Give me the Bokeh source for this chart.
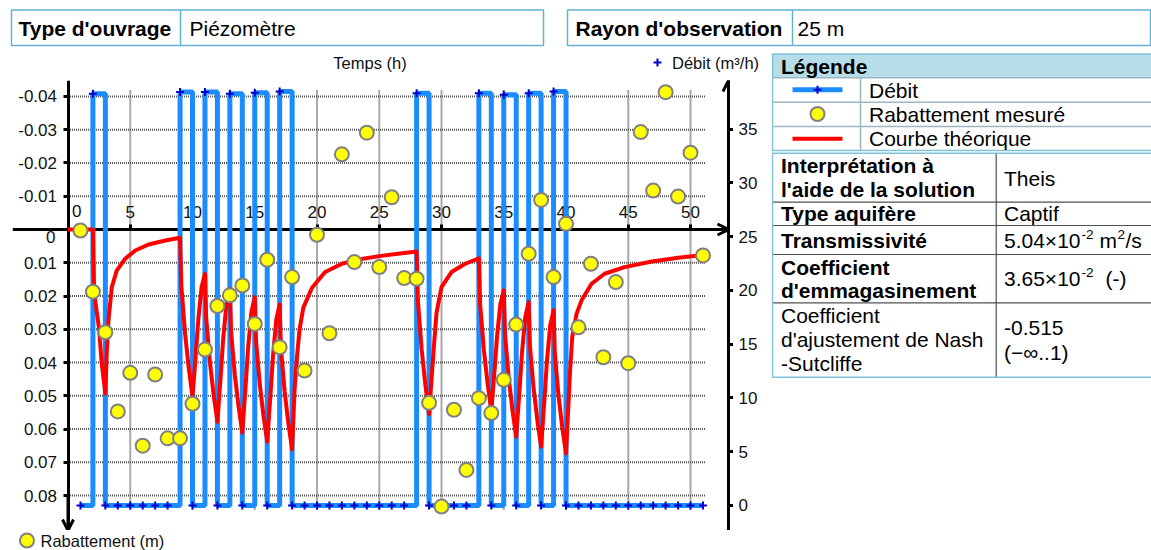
from bokeh.plotting import figure
from bokeh.models import Range1d, LinearAxis, FixedTicker, Label, Arrow, OpenHead
from bokeh.layouts import column, row
from bokeh.embed import file_html
from bokeh.resources import INLINE
from bokeh.core.properties import value

FONT = "Liberation Sans"
BLUE = "#1a8cff"
DARKBLUE = "#0000c8"
TXT = "#111111"

# ---------------- data ----------------
time_ticks = [0, 5, 10, 15, 20, 25, 30, 35, 40, 45, 50]
time_tick_labels = ["", "5", "10", "15", "20", "25", "30", "35", "40", "45", "50"]
rab_ticks = [-0.04, -0.03, -0.02, -0.01, 0, 0.01, 0.02, 0.03, 0.04, 0.05, 0.06, 0.07, 0.08]
rab_tick_labels = ["-0.04", "-0.03", "-0.02", "-0.01", "", "0.01", "0.02", "0.03", "0.04",
                   "0.05", "0.06", "0.07", "0.08"]
debit_ticks = [0, 5, 10, 15, 20, 25, 30, 35]
debit_tick_labels = ["0", "5", "10", "15", "20", "25", "30", "35"]

# Débit (m3/h), hourly
debit_t = list(range(1, 52))
debit_q = [0, 38.3, 0, 0, 0, 0, 0, 0, 38.45, 0,
           38.45, 0, 38.3, 0, 38.4, 0, 38.5, 0, 0, 0,
           0, 0, 0, 0, 0, 0, 0, 38.35, 0, 0,
           0, 0, 38.35, 0, 38.2, 0, 38.35, 0, 38.5, 0,
           0, 0, 0, 0, 0, 0, 0, 0, 0, 0,
           0]

# Rabattement mesuré (m)
meas_t = list(range(1, 52))
meas_r = [0.0003, 0.0187, 0.0309, 0.0547, 0.0431, 0.065, 0.0436, 0.0628, 0.0628, 0.0524,
          0.0361, 0.023, 0.0198, 0.0168, 0.0284, 0.0091, 0.0354, 0.0143, 0.0424, 0.0016,
          0.0312, -0.0226, 0.0098, -0.0291, 0.0113, -0.0097, 0.0146, 0.0148, 0.0521, 0.0833,
          0.0542, 0.0723, 0.0507, 0.0552, 0.0452, 0.0286, 0.0073, -0.0089, 0.0143, -0.0017,
          0.0294, 0.0103, 0.0384, 0.0158, 0.0402, -0.0293, -0.0117, -0.0413, -0.0099, -0.0231,
          0.0078]

# Courbe théorique (m)
curve_t = [0, 2.0, 2.1, 2.5, 2.7, 3.0,
           3.11, 3.25, 3.52, 3.92, 4.59, 5.4, 6.47, 7.81, 9.0,
           9.1, 9.4, 9.7, 10.0, 10.27, 10.46, 10.73, 11.0,
           11.1, 11.4, 11.7, 12.0, 12.27, 12.46, 12.73, 13.0,
           13.1, 13.4, 13.7, 14.0, 14.27, 14.46, 14.73, 15.0,
           15.1, 15.4, 15.7, 16.0, 16.27, 16.46, 16.73, 17.0,
           17.1, 17.4, 17.7, 18.0,
           18.2, 18.4, 18.6, 18.9, 19.6, 20.65, 22.0, 23.3, 25.0, 26.5, 28.0,
           28.1, 28.4, 28.7, 29.0,
           29.35, 29.6, 30.0, 30.8, 31.9, 33.0,
           33.1, 33.4, 33.7, 34.0, 34.27, 34.46, 34.73, 35.0,
           35.1, 35.4, 35.7, 36.0, 36.27, 36.46, 36.73, 37.0,
           37.1, 37.4, 37.7, 38.0, 38.27, 38.46, 38.73, 39.0,
           39.1, 39.4, 39.7, 40.0,
           40.33, 40.5, 40.85, 41.25, 42.05, 43.1, 44.7, 46.9, 49.0, 51.0]
curve_r = [0, 0, 0.019, 0.030, 0.040, 0.0493,
           0.037, 0.0273, 0.0173, 0.0123, 0.0088, 0.0063, 0.0045, 0.0033, 0.0025,
           0.0168, 0.0312, 0.0417, 0.0503, 0.0373, 0.0273, 0.0173, 0.0133,
           0.0267, 0.040, 0.0498, 0.0578, 0.0438, 0.033, 0.0222, 0.0178,
           0.0308, 0.0438, 0.0533, 0.0611, 0.0468, 0.0358, 0.0248, 0.0203,
           0.0334, 0.0464, 0.056, 0.0638, 0.0493, 0.0382, 0.027, 0.0225,
           0.0356, 0.0487, 0.0583, 0.0661,
           0.048, 0.038, 0.030, 0.0235, 0.0175, 0.0128, 0.0103, 0.009, 0.008, 0.0073, 0.0066,
           0.0213, 0.0359, 0.0467, 0.0555,
           0.037, 0.025, 0.0173, 0.0128, 0.0103, 0.0087,
           0.0224, 0.0362, 0.0463, 0.0545, 0.0418, 0.0321, 0.0223, 0.0183,
           0.0315, 0.0447, 0.0544, 0.0623, 0.0481, 0.0372, 0.0263, 0.0218,
           0.0349, 0.0479, 0.0575, 0.0653, 0.051, 0.0399, 0.0288, 0.0243,
           0.0372, 0.0501, 0.0596, 0.0673,
           0.0423, 0.0323, 0.0253, 0.0213, 0.0163, 0.0133, 0.0113, 0.0096, 0.0085, 0.0077]

# ---------------- ranges ----------------
T0, T1 = -4.458, 53.05
R_TOP, R_BOT = -0.0448, 0.0905
Q_BOT, Q_TOP = -2.33, 39.53
GRID_T_END = 51.2
GRID_R_TOP, GRID_R_BOT = -0.0418, 0.0845


def bare(fig):
    fig.grid.visible = False
    if hasattr(fig, "frame_align"):
        fig.frame_align = False
    return fig


def blank(width, height, xr, yr):
    return bare(figure(width=width, height=height, x_range=xr, y_range=yr,
                       x_axis_location=None, y_axis_location=None, toolbar_location=None,
                       output_backend="svg", title=None, min_border=0, outline_line_color=None))


chart = bare(figure(width=733, height=450, x_range=Range1d(T0, T1), y_range=Range1d(R_BOT, R_TOP),
                    x_axis_location=None, y_axis_location=None, toolbar_location=None,
                    output_backend="svg", title=None, min_border_left=12, min_border_right=5,
                    min_border_top=0, min_border_bottom=0, outline_line_color=None))
debit_range = Range1d(Q_BOT, Q_TOP)
chart.extra_y_ranges = {"debit": debit_range}

grid_style = dict(line_color="#555555", line_width=2, line_dash="1 1")
vt = [t for t in time_ticks if t != 0]
chart.segment(x0=vt, x1=vt, y0=[GRID_R_TOP] * len(vt), y1=[GRID_R_BOT] * len(vt), **grid_style)
hr = [r for r in rab_ticks if r != 0]
chart.segment(x0=[0] * len(hr), x1=[GRID_T_END] * len(hr), y0=hr, y1=hr, **grid_style)

axis_style = dict(axis_line_width=3, axis_line_color="black", major_tick_line_width=3,
                  major_tick_out=5, major_tick_in=0, minor_tick_out=0, minor_tick_in=0,
                  major_label_text_font=FONT, major_label_text_font_size="17px",
                  major_label_text_color=TXT)

yax = LinearAxis(fixed_location=0, ticker=FixedTicker(ticks=rab_ticks),
                 major_label_overrides=dict(zip(rab_ticks, rab_tick_labels)),
                 major_label_standoff=6, **axis_style)
chart.add_layout(yax, "left")
xax = LinearAxis(fixed_location=0, ticker=FixedTicker(ticks=time_ticks),
                 major_label_overrides=dict(zip(time_ticks, time_tick_labels)),
                 major_label_standoff=7, **axis_style)
chart.add_layout(xax, "above")
q_style = dict(axis_style)
q_style["major_label_text_font_size"] = "0px"
qax = LinearAxis(y_range_name="debit", ticker=FixedTicker(ticks=debit_ticks),
                 major_label_overrides={q: "" for q in debit_ticks},
                 major_label_standoff=0, **q_style)
chart.add_layout(qax, "right")

# data glyphs above the axes
chart.step(debit_t, debit_q, mode="after", y_range_name="debit", line_color=BLUE,
           line_width=5, level="annotation")
chart.scatter(debit_t, debit_q, marker="cross", size=8, line_color=DARKBLUE,
              line_width=2, y_range_name="debit", level="annotation")
chart.line(curve_t, curve_r, line_color="#ff0000", line_width=4, line_join="round",
           level="annotation")
chart.scatter(meas_t, meas_r, marker="circle", size=14, fill_color="#ffff00",
              line_color="#808080", line_width=2, level="annotation")

# arrows of the axes
head = dict(size=11, line_width=3, line_color="black")
chart.add_layout(Arrow(end=OpenHead(**head), x_start=0, y_start=0.08, x_end=0, y_end=R_BOT,
                       line_width=3, line_color="black"))
chart.add_layout(Arrow(end=OpenHead(**head), x_start=51, y_start=0, x_end=T1, y_end=0,
                       line_width=3, line_color="black"))
chart.add_layout(Arrow(end=OpenHead(**head), x_start=T1, y_start=36, x_end=T1, y_end=Q_TOP,
                       y_range_name="debit", line_width=3, line_color="black"))

lab = dict(text_font=FONT, text_font_size="17px", text_color=TXT, text_baseline="middle")
chart.add_layout(Label(x=0.7, y=-0.0057, text="0", text_align="center", **lab))
chart.add_layout(Label(x=-1.0, y=0.0024, text="0", text_align="right", **lab))

# tick labels of the débit axis, on the same débit scale
qlab = blank(38, 450, Range1d(733, 771), debit_range)
qlab.text(x=[738] * len(debit_ticks), y=debit_ticks, text=debit_tick_labels,
          text_baseline="middle", text_font=value(FONT), text_font_size="17px", text_color=TXT)

# strips above and below the chart (window pixel coordinates)
top_strip = blank(771, 32, Range1d(0, 771), Range1d(80, 48))
top_strip.text(x=[369.5], y=[62], text=["Temps (h)"], text_align="center", text_baseline="middle",
               text_font=value(FONT), text_font_size="16.5px", text_color=TXT)
top_strip.scatter([657], [62], marker="cross", size=8, line_color=DARKBLUE, line_width=2)
top_strip.text(x=[671.5], y=[62], text=["Débit (m³/h)"], text_baseline="middle",
               text_font=value(FONT), text_font_size="16.5px", text_color=TXT)

bot_strip = blank(771, 20, Range1d(0, 771), Range1d(550, 530))
bot_strip.scatter([26.5], [540], marker="circle", size=14, fill_color="#ffff00",
                  line_color="#808080", line_width=2)
bot_strip.text(x=[40], y=[540], text=["Rabattement (m)"], text_baseline="middle",
               text_font=value(FONT), text_font_size="16.5px", text_color=TXT)

# ---------------- header ----------------
head_fig = blank(1151, 48, Range1d(0, 1151), Range1d(48, 0))
BOX = "#62b3d2"
head_fig.quad(left=[11, 567], right=[543, 1150], top=[9.5, 9.5], bottom=[45, 45],
              fill_color="white", line_color=BOX, line_width=1.5)
head_fig.segment(x0=[180, 792], x1=[180, 792], y0=[9.5, 9.5], y1=[45, 45],
                 line_color=BOX, line_width=1.5)
head_fig.text(x=[18, 575], y=[27.5, 27.5], text=["Type d'ouvrage", "Rayon d'observation"],
              text_font=value(FONT), text_font_size="21px", text_font_style="bold",
              text_baseline="middle", text_color="black")
head_fig.text(x=[189, 797], y=[27.5, 27.5], text=["Piézomètre", "25 m"],
              text_font=value(FONT), text_font_size="21px",
              text_baseline="middle", text_color="black")

# ---------------- tables ----------------
tab = blank(380, 502, Range1d(771, 1151), Range1d(550, 48))
L, R = 772, 1152
tab.quad(left=[L], right=[R], top=[53.5], bottom=[77.3], fill_color="#b7dde8", line_color=None)
# legend table lines
tab.segment(x0=[L, L, L], x1=[R, R, R], y0=[77.3, 101.7, 126], y1=[77.3, 101.7, 126],
            line_color="#9db7c1", line_width=1.5)
tab.segment(x0=[860], x1=[860], y0=[77.3], y1=[150], line_color="#9db7c1", line_width=1.5)
tab.quad(left=[L], right=[R], top=[53.5], bottom=[150], fill_color=None, line_color="#7fc1d6",
         line_width=1.5)
# lower table lines
tab.segment(x0=[L] * 4, x1=[R] * 4, y0=[201.7, 225, 254, 302.3], y1=[201.7, 225, 254, 302.3],
            line_color="#505050", line_width=1.2)
tab.segment(x0=[995.7], x1=[995.7], y0=[152.7], y1=[376.7], line_color="#505050", line_width=1.2)
tab.quad(left=[L], right=[R], top=[152.7], bottom=[376.7], fill_color=None, line_color="#7fc1d6",
         line_width=1.5)
# legend icons
tab.segment(x0=[792], x1=[842], y0=[89.3], y1=[89.3], line_color=BLUE, line_width=5)
tab.scatter([817], [89.3], marker="cross", size=8, line_color=DARKBLUE, line_width=2)
tab.scatter([817], [113.5], marker="circle", size=14, fill_color="#ffff00",
            line_color="#808080", line_width=2)
tab.segment(x0=[792], x1=[842], y0=[138.3], y1=[138.3], line_color="#ff0000", line_width=4)

tstyle = dict(text_font=value(FONT), text_font_size="21px", text_baseline="middle",
              text_color="black")
tab.text(x=[780.5], y=[65.5], text=["Légende"], text_font_style="bold", **tstyle)
tab.text(x=[868.5] * 3, y=[89.5, 113.8, 138], text=["Débit", "Rabattement mesuré",
                                                    "Courbe théorique"], **tstyle)
tab.text(x=[780.5] * 6, y=[165, 189.3, 213.3, 240, 266.7, 290],
         text=["Interprétation à", "l'aide de la solution", "Type aquifère", "Transmissivité",
               "Coefficient", "d'emmagasinement"], text_font_style="bold", **tstyle)
tab.text(x=[780.5] * 3, y=[315, 339.3, 363.3],
         text=["Coefficient", "d'ajustement de Nash", "-Sutcliffe"], **tstyle)
tab.text(x=[1003.5] * 6, y=[177.7, 213.3, 240, 278.3, 327.3, 351.7],
         text=["Theis", "Captif", "5.04×10", "3.65×10", "-0.515", "(−∞..1)"], **tstyle)
tab.text(x=[1099, 1125, 1105], y=[240, 240, 278.3], text=["m", "/s", "(-)"], **tstyle)
sup = dict(text_font=value(FONT), text_font_size="13.5px", text_baseline="middle",
           text_color="black")
tab.text(x=[1081, 1081, 1117], y=[234, 272.3, 234], text=["-2", "-2", "2"], **sup)

mid = row(chart, qlab, spacing=0)
left_col = column(top_strip, mid, bot_strip, spacing=0)
layout = column(head_fig, row(left_col, tab, spacing=0), spacing=0)
open("out.html", "w").write(file_html(layout, INLINE))
